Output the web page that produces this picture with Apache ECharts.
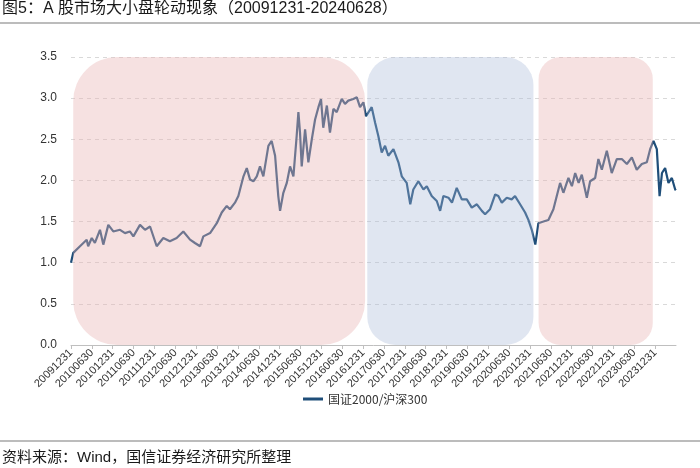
<!DOCTYPE html>
<html>
<head>
<meta charset="utf-8">
<script src="https://cdn.jsdelivr.net/npm/echarts@6/dist/echarts.min.js"></script>
<style>
html,body{margin:0;padding:0;background:#fff;}
#chart{width:700px;height:468px;}
</style>
</head>
<body>
<div id="chart"></div>
<script>
// ---- data ----
const seriesName = '国证2000/沪深300';
const dates = [
'2009-12-31','2010-01-20','2010-03-18','2010-05-16','2010-05-29','2010-06-29','2010-07-27','2010-09-10','2010-10-09','2010-11-22',
'2011-01-05','2011-03-03','2011-04-16','2011-05-29','2011-06-28','2011-08-26','2011-10-09','2011-11-22',
'2012-01-20','2012-03-17','2012-05-14','2012-07-12','2012-09-09','2012-11-07','2012-12-20',
'2013-02-03','2013-03-02','2013-04-30','2013-06-28','2013-08-11','2013-09-24','2013-10-22','2013-12-05',
'2014-01-04','2014-02-17','2014-03-17','2014-04-15','2014-05-14','2014-06-13','2014-07-11','2014-08-10','2014-09-23','2014-10-22','2014-11-21','2014-12-19',
'2015-01-04','2015-02-02','2015-03-02','2015-03-31','2015-04-29','2015-05-28','2015-06-12','2015-06-26','2015-07-11','2015-08-10','2015-09-08','2015-10-08','2015-11-06','2015-12-05','2015-12-28',
'2016-01-17','2016-02-17','2016-03-15','2016-04-14','2016-05-13','2016-06-26','2016-07-25','2016-08-23','2016-10-06','2016-11-06','2016-12-04',
'2017-01-03','2017-01-26','2017-03-15','2017-04-14','2017-05-12','2017-06-11','2017-07-10','2017-08-08','2017-09-22','2017-11-05','2017-12-04',
'2018-01-17','2018-02-16','2018-03-14','2018-04-27','2018-06-11','2018-07-10','2018-08-23','2018-10-06','2018-11-05','2018-12-03',
'2019-01-17','2019-02-16','2019-03-29','2019-05-12','2019-06-25','2019-08-08','2019-09-22','2019-11-05','2019-12-03',
'2020-01-16','2020-02-29','2020-03-28','2020-04-27','2020-06-10','2020-07-23','2020-08-22','2020-10-05','2020-11-18','2020-12-17',
'2021-01-16','2021-02-15','2021-03-13','2021-04-26','2021-06-09','2021-07-23','2021-08-22','2021-09-20','2021-10-19','2021-12-02',
'2022-01-02','2022-01-31','2022-02-28','2022-03-28','2022-05-11','2022-06-09','2022-07-23','2022-08-21','2022-09-20','2022-11-03','2022-12-16',
'2023-01-30','2023-03-13','2023-04-26','2023-06-09','2023-07-22','2023-09-05','2023-10-19','2023-11-17','2023-12-16',
'2024-01-15','2024-02-08','2024-02-28','2024-03-27','2024-04-25','2024-05-25','2024-06-23','2024-06-28'
];
const ratio = [
1.00,1.12,1.20,1.28,1.20,1.30,1.24,1.40,1.22,1.46,
1.38,1.40,1.36,1.38,1.32,1.46,1.40,1.44,
1.20,1.30,1.26,1.30,1.38,1.28,1.24,
1.20,1.32,1.36,1.48,1.61,1.69,1.65,1.73,
1.81,2.05,2.15,2.01,1.99,2.05,2.17,2.05,2.42,2.48,2.30,1.81,
1.63,1.85,1.97,2.17,2.05,2.54,2.83,2.58,2.17,2.62,2.22,2.50,2.74,2.89,2.99,
2.64,2.91,2.58,2.87,2.83,2.99,2.93,2.97,2.99,3.01,2.89,
2.95,2.78,2.89,2.70,2.54,2.34,2.42,2.30,2.38,2.22,2.05,
1.97,1.71,1.89,1.99,1.89,1.93,1.81,1.75,1.63,1.81,
1.79,1.73,1.91,1.77,1.77,1.67,1.71,1.63,1.59,
1.65,1.83,1.81,1.73,1.79,1.77,1.81,1.71,1.61,1.52,
1.40,1.22,1.48,1.50,1.52,1.65,1.81,1.97,1.85,2.03,
1.93,2.09,1.97,2.07,1.79,1.99,2.03,2.26,2.13,2.36,2.09,
2.26,2.26,2.20,2.28,2.13,2.20,2.22,2.38,2.48,
2.38,1.81,2.09,2.15,1.97,2.03,1.89,1.88
];
const tickLabels = ['20091231','20100630','20101231','20110630','20111231','20120630','20121231','20130630','20131231','20140630','20141231','20150630','20151231','20160630','20161231','20170630','20171231','20180630','20181231','20190630','20191231','20200630','20201231','20210630','20211231','20220630','20221231','20230630','20231231'];
// phases (start, end)
const phaseStart = ['2010-01-20','2017-02-06','2021-03-15'];
const phaseEnd   = ['2017-01-18','2021-01-31','2023-12-10'];

// ---- helpers ----
function monthIndex(s){
  const y=+s.slice(0,4), m=+s.slice(5,7), d=+s.slice(8,10);
  const dim = new Date(Date.UTC(y, m, 0)).getUTCDate();
  return (y-2010)*12 + (m-1) + d/dim;
}
const lineData = dates.map((d,i)=>[monthIndex(d), ratio[i]]);
const phaseData = phaseStart.map((s,i)=>[monthIndex(s), monthIndex(phaseEnd[i])]);
const phaseFill = ['rgba(232,180,180,0.40)','rgba(170,186,215,0.36)','rgba(232,180,180,0.40)'];
const phaseRadius = [44,28,22];
const xMax = 174, yMax = 3.5;

const chart = echarts.init(document.getElementById('chart'), null, {renderer:'canvas'});
const FONT = '"Liberation Sans", Arial, "Noto Sans CJK SC", sans-serif';
chart.setOption({
  animation:false,
  backgroundColor:'#fff',
  textStyle:{fontFamily:FONT},
  grid:{left:71, right:24, top:57, bottom:123, containLabel:false},
  legend:{
    data:[seriesName], left:298, top:388, icon:'rect', itemWidth:20, itemHeight:3, itemGap:6,
    textStyle:{fontSize:12, color:'#333', fontFamily:'"Noto Sans CJK SC", sans-serif'}
  },
  xAxis:{
    type:'value', min:0, max:xMax, interval:6,
    axisLine:{show:true, lineStyle:{color:'#bfbfbf', width:1}},
    axisTick:{show:true, length:4, lineStyle:{color:'#bfbfbf'}},
    splitLine:{show:false},
    axisLabel:{
      rotate:45, fontSize:11, color:'#333', margin:6, fontFamily:FONT,
      showMaxLabel:false,
      formatter:function(v){ const k=Math.round(v/6); return tickLabels[k]||''; }
    }
  },
  yAxis:{
    type:'value', min:0, max:yMax, interval:0.5,
    axisLine:{show:false}, axisTick:{show:false},
    splitLine:{show:true, lineStyle:{color:'#d9d9d9', type:[4,4], width:1}},
    axisLabel:{fontSize:12, color:'#333', margin:14, fontFamily:FONT,
      formatter:function(v){ return v.toFixed(1); }}
  },
  series:[
    {
      name:seriesName, type:'line', data:lineData, showSymbol:false, symbol:'none',
      lineStyle:{color:'#1f4e79', width:2.2}, itemStyle:{color:'#1f4e79'}, z:2
    },
    {
      type:'custom', z:3, silent:true, data:phaseData,
      encode:{x:[0,1]},
      renderItem:function(params, api){
        const p0 = api.coord([api.value(0), yMax]);
        const p1 = api.coord([api.value(1), 0]);
        return {type:'rect',
          shape:{x:p0[0], y:p0[1], width:p1[0]-p0[0], height:p1[1]-p0[1], r:phaseRadius[params.dataIndex]},
          style:{fill:phaseFill[params.dataIndex]}};
      }
    }
  ],
  graphic:[
    {type:'text', left:2, top:1, style:{text:'图5：A 股市场大小盘轮动现象（20091231-20240628）', fontSize:16, fill:'#1a1a1a', fontFamily:'"Liberation Sans", "Noto Sans CJK SC", sans-serif'}},
    {type:'line', shape:{x1:0,y1:23,x2:700,y2:23}, style:{stroke:'#a6a6a6', lineWidth:1.5}},
    {type:'line', shape:{x1:0,y1:441,x2:700,y2:441}, style:{stroke:'#a6a6a6', lineWidth:1.5}},
    {type:'text', left:2, top:450, style:{text:'资料来源：Wind，国信证券经济研究所整理', fontSize:15, fill:'#1a1a1a', fontFamily:'"Liberation Sans", "Noto Sans CJK SC", sans-serif'}}
  ]
});
</script>
</body>
</html>
